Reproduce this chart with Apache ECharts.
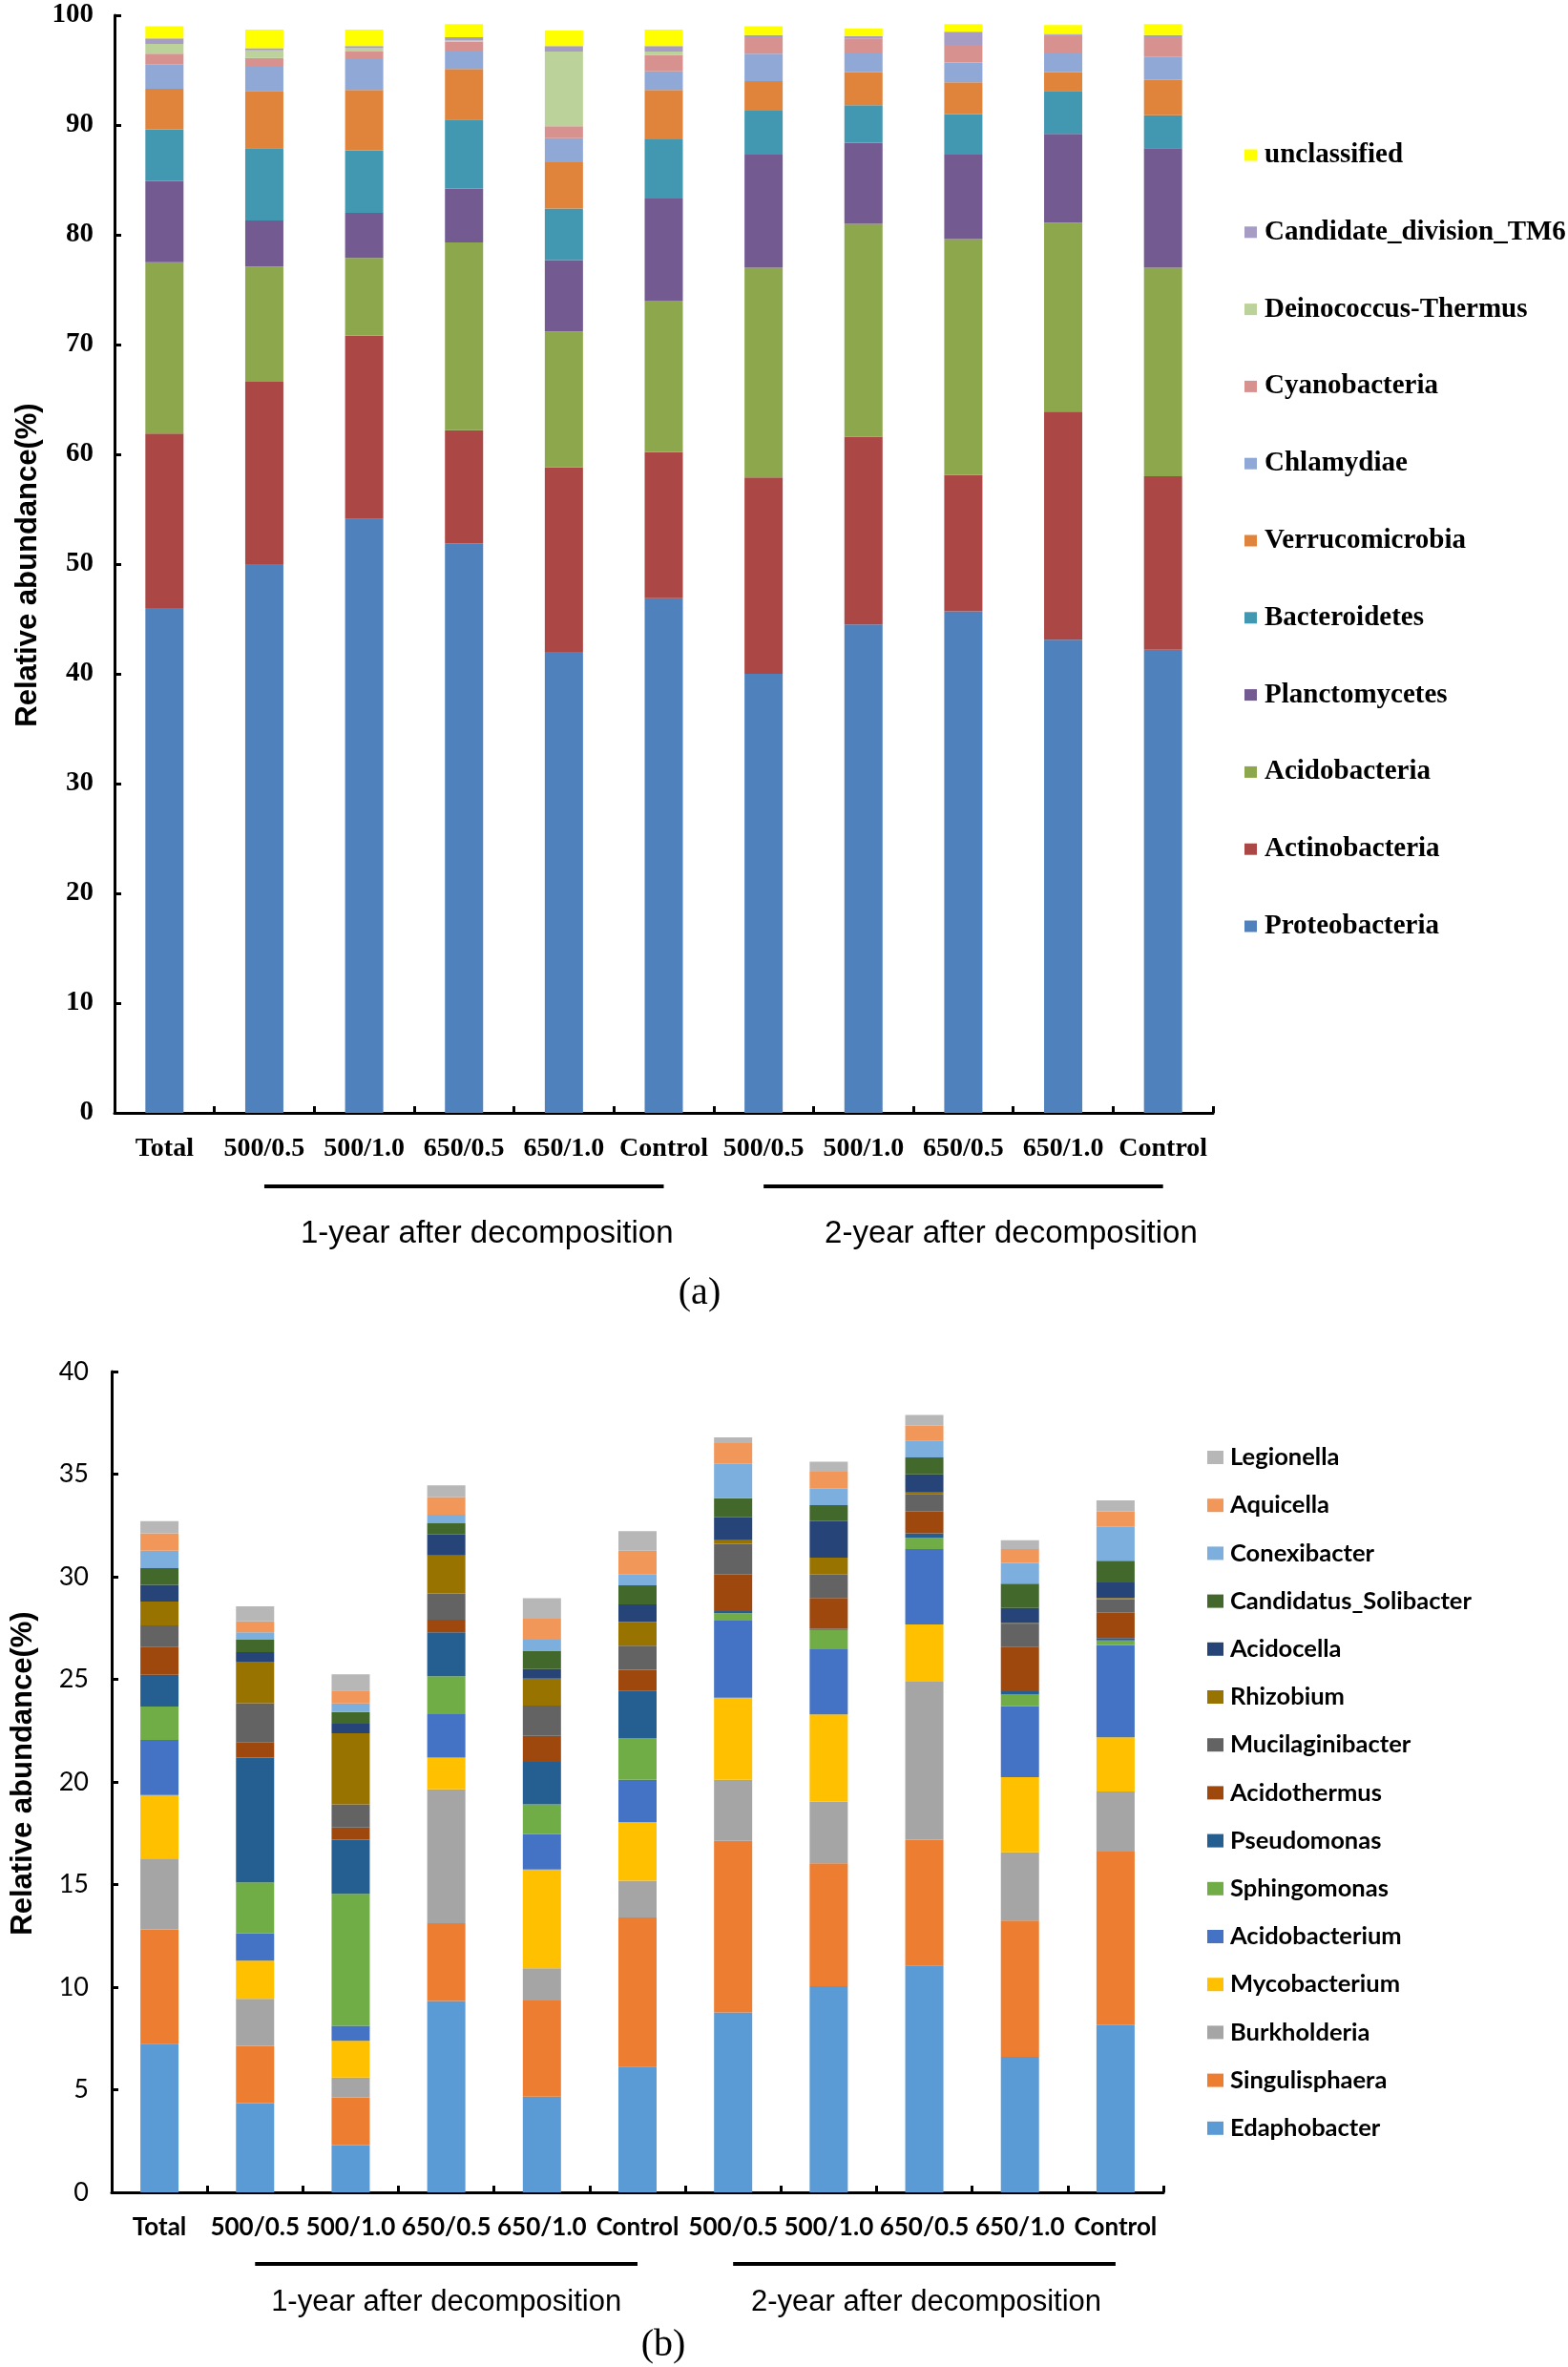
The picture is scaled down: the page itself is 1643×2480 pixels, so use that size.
<!DOCTYPE html>
<html><head><meta charset="utf-8">
<script src="https://cdn.jsdelivr.net/npm/echarts/dist/echarts.min.js"></script>
<style>html,body{margin:0;padding:0;background:#fff}#c{width:1643px;height:2480px}</style>
</head><body><div id="c"></div><script>
// ---------- DATA ----------
const categories = ['Total','500/0.5','500/1.0','650/0.5','650/1.0','Control','500/0.5','500/1.0','650/0.5','650/1.0','Control'];
const groups = [
  {label:'1-year after decomposition', from:1, to:5},
  {label:'2-year after decomposition', from:6, to:10}
];
const yTicksA = {min:0, max:100, interval:10};
const yTicksB = {min:0, max:40, interval:5};

// (a) phylum level, stacked bottom -> top
const phylaNames = ['Proteobacteria','Actinobacteria','Acidobacteria','Planctomycetes','Bacteroidetes','Verrucomicrobia','Chlamydiae','Cyanobacteria','Deinococcus-Thermus','Candidate_division_TM6','unclassified'];
const Proteobacteria  = [46.0, 50.0, 54.1, 51.9, 42.0, 46.9, 40.0, 44.5, 45.7, 43.1, 42.2];
const Actinobacteria  = [15.9, 16.6, 16.7, 10.3, 16.8, 13.3, 17.9, 17.1, 12.4, 20.8, 15.8];
const Acidobacteria   = [15.6, 10.5,  7.1, 17.1, 12.4, 13.8, 19.1, 19.4, 21.5, 17.2, 19.0];
const Planctomycetes  = [ 7.4,  4.2,  4.1,  4.9,  6.5,  9.3, 10.3,  7.4,  7.7,  8.1, 10.9];
const Bacteroidetes   = [ 4.7,  6.6,  5.7,  6.3,  4.7,  5.4,  4.0,  3.4,  3.7,  3.9,  3.0];
const Verrucomicrobia = [ 3.7,  5.2,  5.5,  4.6,  4.2,  4.5,  2.7,  3.0,  2.9,  1.7,  3.2];
const Chlamydiae      = [ 2.2,  2.2,  2.8,  1.6,  2.2,  1.7,  2.5,  1.8,  1.8,  1.8,  2.1];
const Cyanobacteria   = [ 1.0,  0.8,  0.7,  0.9,  1.1,  1.5,  1.5,  1.3,  1.6,  1.6,  1.8];
const DeinococcusThermus = [0.9, 0.7, 0.3, 0.1, 6.8, 0.3, 0, 0, 0, 0, 0];
const CandidateTM6    = [ 0.5,  0.2,  0.2,  0.3,  0.5,  0.5,  0.2,  0.2,  1.2,  0.1,  0.2];
const unclassified    = [ 1.1,  1.7,  1.5,  1.2,  1.4,  1.5,  0.8,  0.7,  0.7,  0.8,  1.0];
const phylaValues = [Proteobacteria, Actinobacteria, Acidobacteria, Planctomycetes, Bacteroidetes, Verrucomicrobia, Chlamydiae, Cyanobacteria, DeinococcusThermus, CandidateTM6, unclassified];

// (b) genus level, stacked bottom -> top
const genusNames = ['Edaphobacter','Singulisphaera','Burkholderia','Mycobacterium','Acidobacterium','Sphingomonas','Pseudomonas','Acidothermus','Mucilaginibacter','Rhizobium','Acidocella','Candidatus_Solibacter','Conexibacter','Aquicella','Legionella'];
const Edaphobacter     = [7.25, 4.35, 2.30, 9.32, 4.66, 6.13, 8.77, 10.05, 11.06, 6.60, 8.15];
const Singulisphaera   = [5.56, 2.79, 2.33, 3.80, 4.69, 7.26, 8.36, 5.99, 6.13, 6.65, 8.46];
const Burkholderia     = [3.46, 2.29, 0.96, 6.52, 1.57, 1.80, 2.98, 3.01, 7.69, 3.32, 2.92];
const Mycobacterium    = [3.09, 1.86, 1.79, 1.55, 4.81, 2.85, 4.00, 4.24, 2.79, 3.66, 2.64];
const Acidobacterium   = [2.69, 1.33, 0.74, 2.11, 1.74, 2.07, 3.75, 3.18, 3.68, 3.46, 4.50];
const Sphingomonas     = [1.62, 2.49, 6.43, 1.85, 1.44, 2.01, 0.36, 0.94, 0.56, 0.57, 0.23];
const Pseudomonas      = [1.55, 6.08, 2.64, 2.14, 2.07, 2.33, 0.11, 0.06, 0.21, 0.16, 0.11];
const Acidothermus     = [1.37, 0.75, 0.59, 0.62, 1.27, 1.02, 1.78, 1.49, 1.06, 2.17, 1.24];
const Mucilaginibacter = [1.04, 1.90, 1.13, 1.28, 1.47, 1.17, 1.49, 1.15, 0.85, 1.08, 0.66];
const Rhizobium        = [1.16, 2.02, 3.46, 1.85, 1.32, 1.16, 0.18, 0.82, 0.08, 0.08, 0.05];
const Acidocella       = [0.82, 0.47, 0.47, 1.02, 0.46, 0.85, 1.12, 1.78, 0.88, 0.73, 0.76];
const Candidatus_Solibacter = [0.81, 0.60, 0.57, 0.54, 0.89, 0.93, 0.93, 0.78, 0.82, 1.18, 1.06];
const Conexibacter     = [0.85, 0.36, 0.42, 0.42, 0.54, 0.53, 1.67, 0.80, 0.83, 1.01, 1.65];
const Aquicella        = [0.85, 0.54, 0.62, 0.86, 1.02, 1.16, 1.01, 0.83, 0.72, 0.68, 0.75];
const Legionella       = [0.59, 0.73, 0.79, 0.57, 1.00, 0.95, 0.28, 0.49, 0.52, 0.43, 0.54];
const genusValues = [Edaphobacter, Singulisphaera, Burkholderia, Mycobacterium, Acidobacterium, Sphingomonas, Pseudomonas, Acidothermus, Mucilaginibacter, Rhizobium, Acidocella, Candidatus_Solibacter, Conexibacter, Aquicella, Legionella];

// ---------- STYLE ----------
const phylaColors = ['#4F81BD','#AB4745','#8DA84C','#735A91','#4398B1','#E0843C','#90A8D6','#D79290','#BBD29A','#A79CC3','#FFFF00'];
const genusColors = ['#5B9BD5','#ED7D31','#A5A5A5','#FFC000','#4472C4','#70AD47','#255E91','#9E480E','#636363','#997300','#264478','#43682B','#7CAFDD','#F1975A','#B7B7B7'];
const serif = 'Liberation Serif';
const sans = 'Liberation Sans';
const cal = 'Lato';

const chart = echarts.init(document.getElementById('c'), null, {renderer:'canvas'});

const series = [];
phylaNames.forEach((n,i)=>series.push({
  name:n, type:'bar', stack:'a', xAxisIndex:0, yAxisIndex:0, barWidth:40,
  data:phylaValues[i], itemStyle:{color:phylaColors[i]}, emphasis:{disabled:true}
}));
genusNames.forEach((n,i)=>series.push({
  name:n, type:'bar', stack:'b', xAxisIndex:1, yAxisIndex:1, barWidth:40,
  data:genusValues[i], itemStyle:{color:genusColors[i]}, emphasis:{disabled:true}
}));

const axisLine = {show:true, lineStyle:{color:'#000', width:3}};
const option = {
  animation:false,
  backgroundColor:'#fff',
  grid:[
    {left:120, top:16, width:1151, height:1150},
    {left:117, top:1437, width:1102, height:860}
  ],
  xAxis:[
    {type:'category', gridIndex:0, data:categories, axisLine,
     axisTick:{show:true, inside:true, length:7, lineStyle:{color:'#000', width:3}},
     axisLabel:{interval:0, margin:24, color:'#000', fontFamily:serif, fontWeight:'bold', fontSize:28}},
    {type:'category', gridIndex:1, data:categories, axisLine,
     axisTick:{show:true, inside:true, length:7, lineStyle:{color:'#000', width:3}},
     axisLabel:{interval:0, margin:24, color:'#000', fontFamily:cal, fontWeight:'bold', fontSize:26}}
  ],
  yAxis:[
    {type:'value', gridIndex:0, min:yTicksA.min, max:yTicksA.max, interval:yTicksA.interval, axisLine,
     axisTick:{show:true, inside:true, length:7, lineStyle:{color:'#000', width:3}},
     splitLine:{show:false},
     axisLabel:{margin:22, color:'#000', fontFamily:serif, fontWeight:'bold', fontSize:29}},
    {type:'value', gridIndex:1, min:yTicksB.min, max:yTicksB.max, interval:yTicksB.interval, axisLine,
     axisTick:{show:true, inside:true, length:7, lineStyle:{color:'#000', width:3}},
     splitLine:{show:false},
     axisLabel:{margin:24, color:'#000', fontFamily:cal, fontSize:27}}
  ],
  legend:[
    {orient:'vertical', left:1299, top:143, itemWidth:13, itemHeight:12, itemGap:51.8, icon:'rect',
     selectedMode:false, data:phylaNames.slice().reverse(),
     textStyle:{fontFamily:serif, fontWeight:'bold', fontSize:29, lineHeight:29, color:'#000', padding:[0,0,0,3]}},
    {orient:'vertical', left:1260, top:1509, itemWidth:17, itemHeight:14, itemGap:24.2, icon:'rect',
     selectedMode:false, data:genusNames.slice().reverse(),
     textStyle:{fontFamily:cal, fontWeight:'bold', fontSize:25.5, lineHeight:24, color:'#000', padding:[0,0,0,2]}}
  ],
  series
};
chart.setOption(option);

// annotations (group lines computed from the category axis)
const layout = {
  a:{grid:0, lineY:1243, textY:1293, textDx:[24,50], font:'33px '+sans, tag:'(a)', tagX:733, tagY:1355, titleX:29, titleY:592},
  b:{grid:1, lineY:2372, textY:2412, textDx:[0,2], font:'31px '+sans, tag:'(b)', tagX:695, tagY:2457, titleX:24, titleY:1858}
};
const graphic = [];
Object.values(layout).forEach(L=>{
  groups.forEach((g,gi)=>{
    const x1 = chart.convertToPixel({gridIndex:L.grid},[g.from,0])[0];
    const x2 = chart.convertToPixel({gridIndex:L.grid},[g.to,0])[0];
    graphic.push({type:'line', shape:{x1:x1, y1:L.lineY, x2:x2, y2:L.lineY}, style:{stroke:'#000', lineWidth:4}});
    graphic.push({type:'text', x:(x1+x2)/2 + L.textDx[gi], y:L.textY,
      style:{text:g.label, font:L.font, fill:'#000', align:'center', verticalAlign:'middle'}});
  });
  graphic.push({type:'text', x:L.tagX, y:L.tagY,
    style:{text:L.tag, font:'40px '+serif, fill:'#000', align:'center', verticalAlign:'middle'}});
  graphic.push({type:'text', x:L.titleX, y:L.titleY, rotation:Math.PI/2,
    style:{text:'Relative abundance(%)', font:'bold 31px '+sans, fill:'#000', align:'center', verticalAlign:'middle'}});
});
chart.setOption({graphic});
</script></body></html>
